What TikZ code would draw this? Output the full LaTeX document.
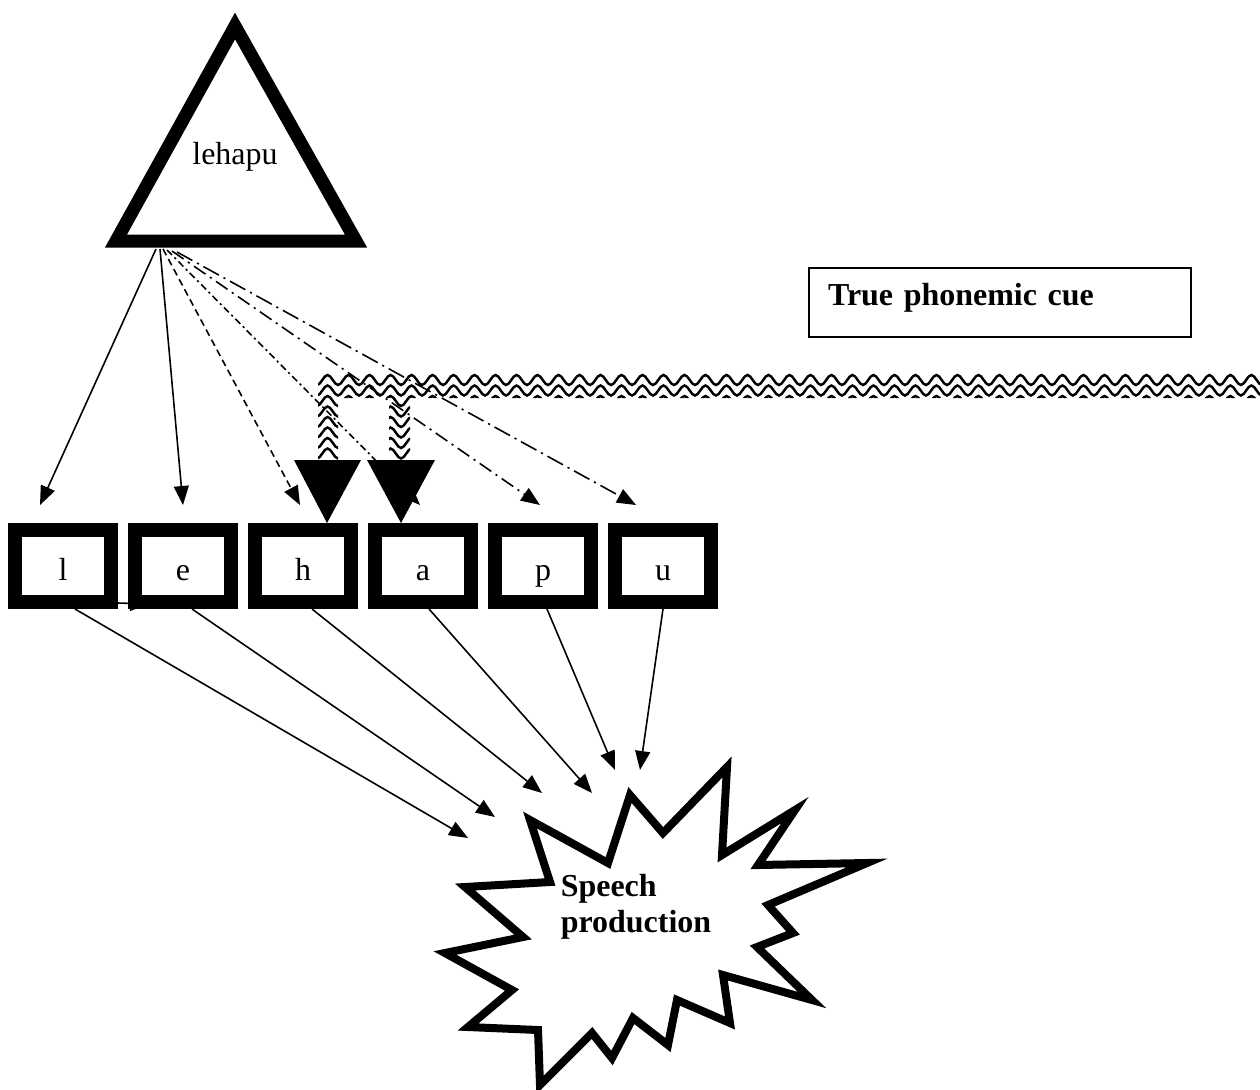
\documentclass[tikz,border=0pt]{standalone}
\usepackage{fontspec}
\setmainfont{Liberation Serif}
\usetikzlibrary{arrows.meta,calc,decorations.pathmorphing}

\begin{document}
\begin{tikzpicture}[
    x=0.02cm, y=-0.02cm,
    >={Triangle[length=3.8mm,width=3mm]},
    font=\fontsize{18.2}{20.5}\selectfont,
    letter/.style={
        draw,
        line width=2.8mm,
        minimum width=19.2mm,
        minimum height=14.4mm,
        text height=5.6mm,
        text depth=0mm
    },
    cuebox/.style={
        draw,
        line width=1pt,
        minimum width=7.64cm,
        minimum height=1.38cm,
        text width=6.88cm,
        text depth=3.2mm,
        align=left,
        font=\fontsize{18.2}{20.5}\selectfont\bfseries
    },
    arr/.style={->, line width=0.9pt},
    wave/.style={
        line width=1.4pt,
        decorate,
        decoration={snake, segment length=4.2mm, amplitude=1mm}
    }
]
    \useasboundingbox (0,0) rectangle (1260,1089);

    \draw[line width=2.6mm, line join=miter] (235,26) -- (356,241) -- (116,241) -- cycle;
    \node (word) at (235,157) {lehapu};
    \coordinate (root) at (163,249);

    \node[letter] (l) at (63,566) {l};
    \node[letter] (e) at (183,566) {e};
    \node[letter] (h) at (303,566) {h};
    \node[letter] (a) at (423,566) {a};
    \node[letter] (p) at (543,566) {p};
    \node[letter] (u) at (663,566) {u};

    \node[cuebox] (cue) at (1000,302.5) {True phonemic cue};

    \draw[arr] ($(root)+(-7,0)$) -- ($(l.north)+(-23,-18)$);
    \draw[arr] ($(root)+(-3,0)$) -- ($(e.north)+(0,-18)$);
    \draw[arr, dash pattern=on 4pt off 2.5pt] (root) -- ($(h.north)+(-3,-18)$);
    \draw[arr, dash pattern=on 4pt off 2pt on 1.2pt off 2pt] ($(root)+(4,1)$) -- ($(a.north)+(-3,-18)$);
    \draw[arr, dash pattern=on 8pt off 3pt on 1.2pt off 3pt] ($(root)+(9,2)$) -- ($(p.north)+(-3,-18)$);
    \draw[arr, dash pattern=on 10pt off 3pt on 1.2pt off 3pt] ($(root)+(14,3)$) -- ($(u.north)+(-27,-18)$);

    \begin{scope}
        \clip (318,373) rectangle (1260,398)
              (318,398) rectangle (338,460)
              (389,398) rectangle (410,460);
        \foreach \y in {380,390.5,...,458}
            \draw[wave] (300,\y) -- (1270,\y);
    \end{scope}
    \fill ($(h.north)+(-9,-63)$) -- ($(h.north)+(58,-63)$) -- ($(h.north)+(24,0)$) -- cycle;
    \fill ($(a.north)+(-56,-63)$) -- ($(a.north)+(12,-63)$) -- ($(a.north)+(-22,0)$) -- cycle;

    \draw[arr] ($(l.east)+(0,37)$) -- ($(e.west)+(21,38)$);

    \draw[line width=1.6mm, line join=miter, fill=white]
        (530,820) -- (608,863) -- (630,795) -- (663,833) -- (727,767) -- (722,855)
        -- (795,810) -- (758,865) -- (867,863) -- (768,905) -- (793,933) -- (757,947)
        -- (812,1000) -- (723,975) -- (730,1023) -- (677,1000) -- (668,1045) -- (633,1018)
        -- (612,1058) -- (592,1033) -- (540,1085) -- (538,1030) -- (468,1027) -- (512,990)
        -- (445,953) -- (523,937) -- (465,887) -- (550,882) -- cycle;
    \node[align=left, font=\fontsize{18.2}{20.5}\selectfont\bfseries] (speech) at (636,907)
        {Speech\\production};

    \draw[arr] ($(l.south)+(12,0)$) -- ($(speech)+(-168,-69)$);
    \draw[arr] ($(e.south)+(9,0)$) -- ($(speech)+(-141,-90)$);
    \draw[arr] ($(h.south)+(9,0)$) -- ($(speech)+(-94,-114)$);
    \draw[arr] ($(a.south)+(6,0)$) -- ($(speech)+(-44,-114)$);
    \draw[arr] ($(p.south)+(4,0)$) -- ($(speech)+(-21,-137)$);
    \draw[arr] (u.south) -- ($(speech)+(4,-137)$);
\end{tikzpicture}
\end{document}
